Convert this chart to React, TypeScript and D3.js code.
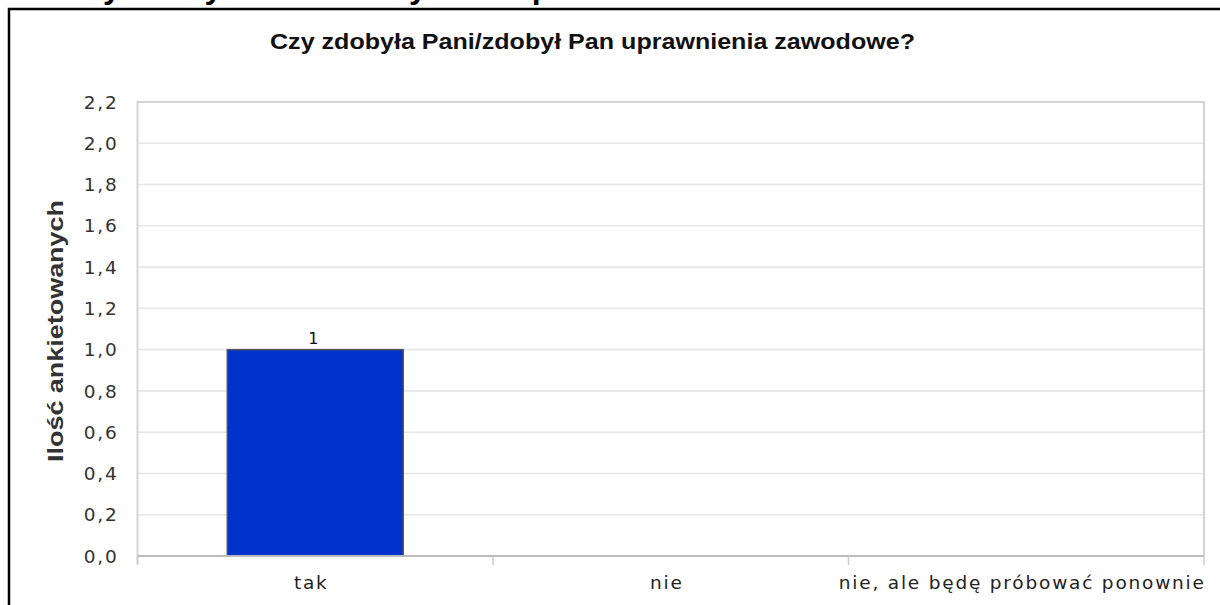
import { useEffect, useRef } from 'react'
import * as d3 from 'd3'

// dane wykresu
const categories = ['tak', 'nie', 'nie, ale będę próbować ponownie']
const counts = [1, 0, 0]
const yTicks = [0, 0.2, 0.4, 0.6, 0.8, 1.0, 1.2, 1.4, 1.6, 1.8, 2.0, 2.2]
const title = 'Czy zdobyła Pani/zdobył Pan uprawnienia zawodowe?'
const yTitle = 'Ilość ankietowanych'

const W = 1220
const H = 605

export default function App() {
  const svgRef = useRef<SVGSVGElement>(null)

  useEffect(() => {
    const svg = d3.select(svgRef.current)
    svg.selectAll('*').remove()

    const left = 137.5
    const right = 1204
    const top = 102
    const bottom = 556

    const x = d3.scaleBand<string>().domain(categories).range([left, right]).padding(0)
    const y = d3.scaleLinear().domain([0, 2.2]).range([bottom, top])
    const fmt = (v: number) => d3.format('.1f')(v).replace('.', ',')

    svg.append('rect').attr('width', W).attr('height', H).attr('fill', '#fff')

    // ucięty nagłówek strony nad ramką
    svg.append('text')
      .attr('x', 64)
      .attr('y', -2)
      .attr('font-family', '"Liberation Sans", Arial, sans-serif')
      .attr('font-weight', 'bold')
      .attr('font-size', 32)
      .attr('fill', '#000')
      .text(title)

    // ramka
    svg.append('rect')
      .attr('x', 9).attr('y', 9)
      .attr('width', 1400).attr('height', 800)
      .attr('fill', '#fff')
      .attr('stroke', '#000')
      .attr('stroke-width', 2.5)

    // tytuł
    svg.append('text')
      .attr('x', 270)
      .attr('y', 48.5)
      .attr('font-family', '"Liberation Sans Narrow", "Liberation Sans", Arial, sans-serif')
      .attr('font-weight', 'bold')
      .attr('font-size', 22.5)
      .attr('fill', '#111')
      .attr('textLength', 645)
      .attr('lengthAdjust', 'spacingAndGlyphs')
      .text(title)

    // siatka
    svg.append('g')
      .selectAll('line')
      .data(yTicks.filter(t => t > 0 && t < 2.2))
      .enter()
      .append('line')
      .attr('x1', left).attr('x2', right)
      .attr('y1', d => y(d)).attr('y2', d => y(d))
      .attr('stroke', '#e6e6e6')
      .attr('stroke-width', 1.6)

    // obramowanie obszaru wykresu
    svg.append('path')
      .attr('d', `M${left},${bottom + 7}V${top}H${right}V${bottom}`)
      .attr('fill', 'none')
      .attr('stroke', '#d4d4d4')
      .attr('stroke-width', 2)

    // etykiety osi Y
    svg.append('g')
      .selectAll('text')
      .data(yTicks)
      .enter()
      .append('text')
      .attr('x', 118.5)
      .attr('y', d => y(d))
      .attr('dy', '0.36em')
      .attr('text-anchor', 'end')
      .attr('font-family', '"DejaVu Sans", sans-serif')
      .attr('font-size', 18.5)
      .attr('letter-spacing', 1.8)
      .attr('fill', '#333')
      .text(d => fmt(d))

    // słupki
    const bw = x.bandwidth() * 0.495
    const rows = counts.map((v, i) => ({ c: categories[i], v })).filter(d => d.v > 0)
    svg.append('g')
      .selectAll('rect')
      .data(rows)
      .enter()
      .append('rect')
      .attr('x', d => x(d.c)! + (x.bandwidth() - bw) / 2)
      .attr('y', d => y(d.v))
      .attr('width', bw)
      .attr('height', d => bottom - y(d.v))
      .attr('fill', '#0033cc')
      .attr('stroke', '#555')
      .attr('stroke-width', 1.5)

    svg.append('g')
      .selectAll('text')
      .data(rows)
      .enter()
      .append('text')
      .attr('x', d => x(d.c)! + x.bandwidth() / 2 - 2)
      .attr('y', d => y(d.v) - 6)
      .attr('text-anchor', 'middle')
      .attr('font-family', '"DejaVu Sans", sans-serif')
      .attr('font-size', 16)
      .attr('fill', '#111')
      .text(d => d.v)

    // oś X
    svg.append('line')
      .attr('x1', left).attr('x2', right)
      .attr('y1', bottom).attr('y2', bottom)
      .attr('stroke', '#bbb')
      .attr('stroke-width', 2)

    const edges = categories.map(c => x(c)!).concat([right])
    svg.append('g')
      .selectAll('line')
      .data(edges)
      .enter()
      .append('line')
      .attr('x1', d => d).attr('x2', d => d)
      .attr('y1', bottom).attr('y2', bottom + 9)
      .attr('stroke', '#ccc')
      .attr('stroke-width', 1.5)

    svg.append('g')
      .selectAll('text')
      .data(categories)
      .enter()
      .append('text')
      .attr('x', d => x(d)! + x.bandwidth() / 2 - 4)
      .attr('y', 589)
      .attr('text-anchor', 'middle')
      .attr('font-family', '"DejaVu Sans", sans-serif')
      .attr('font-size', 18.5)
      .attr('letter-spacing', 1.8)
      .attr('fill', '#222')
      .text(d => d)

    // tytuł osi Y
    svg.append('text')
      .attr('transform', 'translate(63,331) rotate(-90)')
      .attr('text-anchor', 'middle')
      .attr('font-family', '"Liberation Sans Narrow", "Liberation Sans", Arial, sans-serif')
      .attr('font-weight', 'bold')
      .attr('font-size', 22.5)
      .attr('fill', '#333')
      .attr('textLength', 262)
      .attr('lengthAdjust', 'spacingAndGlyphs')
      .text(yTitle)
  }, [])

  return (
    <div style={{ position: 'absolute', left: 0, top: 0 }}>
      <svg ref={svgRef} width={W} height={H} style={{ display: 'block' }}></svg>
    </div>
  )
}
